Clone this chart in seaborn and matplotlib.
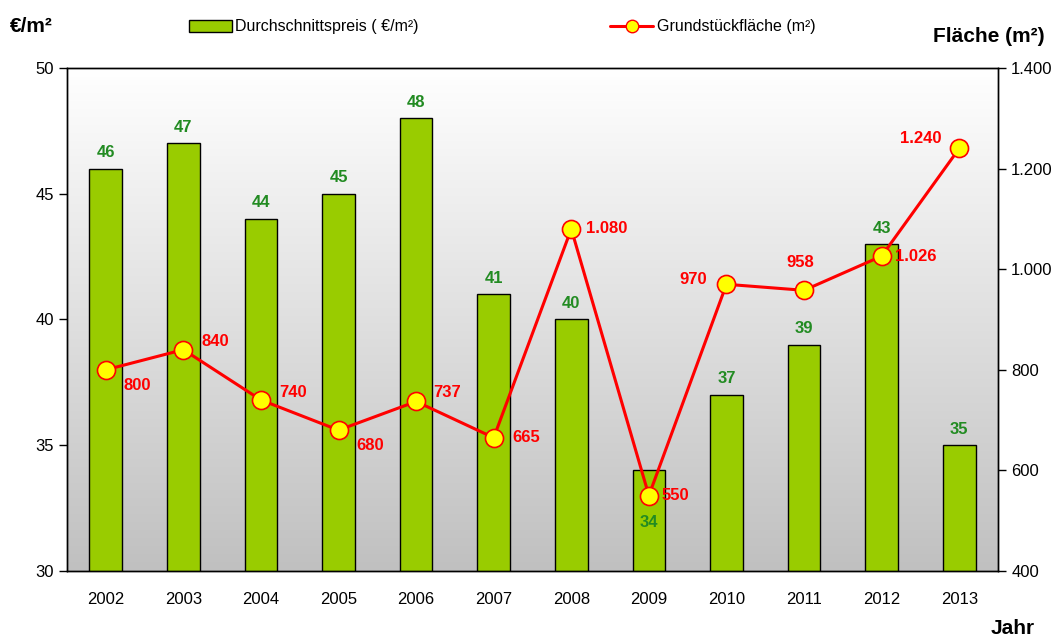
import numpy as np
import pandas as pd
import seaborn as sns
import matplotlib.pyplot as plt
from matplotlib.colors import LinearSegmentedColormap
from matplotlib.ticker import FuncFormatter
from matplotlib.lines import Line2D
from matplotlib.patches import Patch

years = ["2002", "2003", "2004", "2005", "2006", "2007",
         "2008", "2009", "2010", "2011", "2012", "2013"]
preis = [46, 47, 44, 45, 48, 41, 40, 34, 37, 39, 43, 35]
flaeche = [800, 840, 740, 680, 737, 665, 1080, 550, 970, 958, 1026, 1240]

df = pd.DataFrame({"Jahr": years, "Preis": preis, "Flaeche": flaeche})
df["pos"] = np.arange(len(df))

sns.set_style("white")
plt.rcParams["font.family"] = ["Liberation Sans", "DejaVu Sans"]
plt.rcParams["text.color"] = "black"
plt.rcParams["xtick.color"] = "black"
plt.rcParams["ytick.color"] = "black"
plt.rcParams["axes.labelcolor"] = "black"

green = "#99CC00"
label_green = "#228B22"
red = "#FF0000"

fig = plt.figure(figsize=(10.55, 6.37), dpi=100)
ax = fig.add_axes([67 / 1055, 1 - 571 / 637, (998 - 67) / 1055, (571 - 68) / 637])

# gradient background
cmap = LinearSegmentedColormap.from_list("bg", ["#ffffff", "#c0c0c0"])
grad = np.linspace(0, 1, 256).reshape(-1, 1)
ax.imshow(grad, cmap=cmap, aspect="auto", extent=[0, 1, 0, 1],
          transform=ax.transAxes, zorder=0, origin="upper")

sns.barplot(data=df, x="Jahr", y="Preis", color=green, width=0.42,
            edgecolor="black", linewidth=1, saturation=1, ax=ax, zorder=2)
ax.set_ylim(30, 50)
ax.set_xlim(-0.5, len(years) - 0.5)
ax.set_yticks([30, 35, 40, 45, 50])
ax.set_xlabel("")
ax.set_ylabel("")

for i, v in enumerate(preis):
    dy = -52 if v == 34 else 16
    ax.annotate(str(v), (i, v), xytext=(0, dy), textcoords="offset pixels",
                ha="center", va="center", color=label_green,
                fontsize=12, fontweight="bold", zorder=5)

# x ticks between categories
ax.set_xticks(np.arange(len(years)))
ax.set_xticklabels(years, fontsize=12)
ax.set_xticks(np.arange(-0.5, len(years)), minor=True)
ax.tick_params(axis="x", which="major", length=0, pad=15)
ax.tick_params(axis="x", which="minor", length=6, direction="out", width=1)
ax.tick_params(axis="y", length=6, width=1, direction="out", labelsize=12, left=True)

ax2 = ax.twinx()
sns.lineplot(data=df, x="pos", y="Flaeche", color=red, linewidth=2.2,
             marker="o", markersize=13, markerfacecolor="#FFFF00",
             markeredgecolor=red, markeredgewidth=1.2, ax=ax2, zorder=4)
ax2.set_ylim(400, 1400)
ax2.set_xlim(-0.5, len(years) - 0.5)
ax2.set_yticks([400, 600, 800, 1000, 1200, 1400])
ax2.yaxis.set_major_formatter(FuncFormatter(lambda v, p: f"{int(v):,}".replace(",", ".")))
ax2.tick_params(axis="y", length=6, width=1, direction="out", labelsize=12, right=True)
ax2.set_xlabel("")
ax2.set_ylabel("")

offsets = [(31, -16), (32, 8), (32, 7), (32, -15), (31, 9), (33, 0),
           (35, 0), (26, 0), (-33, 5), (-4, 28), (34, 0), (-38, 10)]
for i, v in enumerate(flaeche):
    txt = f"{v:,}".replace(",", ".")
    ax2.annotate(txt, (i, v), xytext=offsets[i], textcoords="offset pixels",
                 ha="center", va="center", color=red, fontsize=12,
                 fontweight="bold", zorder=6)

for a in (ax, ax2):
    for s in a.spines.values():
        s.set_color("black")
        s.set_linewidth(1)

fig.text(10 / 1055, 1 - 27 / 637, "€/m²", fontsize=15, fontweight="bold", va="center")
fig.text(1045 / 1055, 1 - 37 / 637, "Fläche (m²)", fontsize=15, fontweight="bold",
         va="center", ha="right")
fig.text(1035 / 1055, 1 - 628 / 637, "Jahr", fontsize=15, fontweight="bold",
         va="center", ha="right")

handles = [Patch(facecolor=green, edgecolor="black", linewidth=1),
           Line2D([0], [0], color=red, linewidth=2.2, marker="o", markersize=9,
                  markerfacecolor="#FFFF00", markeredgecolor=red)]
fig.legend(handles, ["Durchschnittspreis ( €/m²)", "Grundstückfläche (m²)"],
           loc="center", bbox_to_anchor=(502 / 1055, 1 - 27 / 637), ncol=2,
           frameon=False, fontsize=11.5, columnspacing=12, handlelength=2.7,
           handletextpad=0.2)

fig.savefig("out.png", dpi=100)
